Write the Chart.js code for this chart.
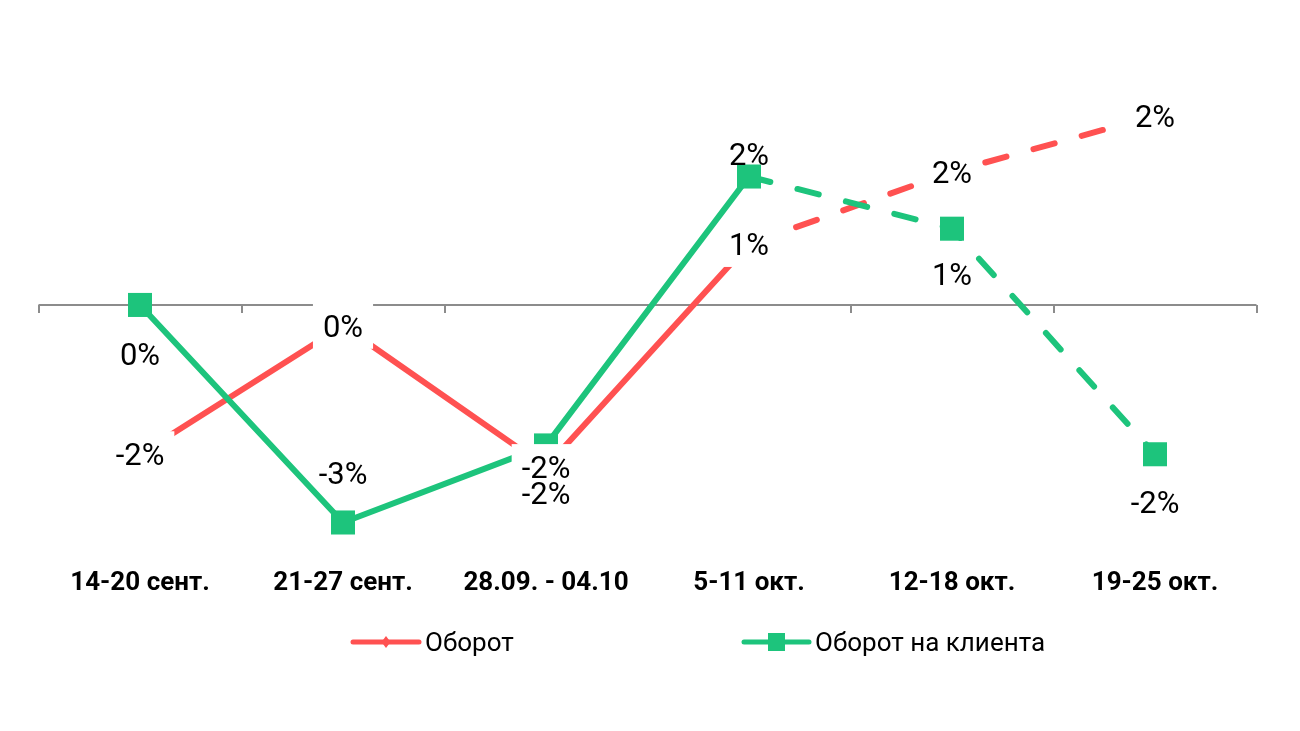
<!DOCTYPE html>
<html>
<head>
<meta charset="utf-8">
<style>
  html, body { margin: 0; padding: 0; background: #ffffff; }
  #wrap { width: 1300px; height: 731px; position: relative; }
</style>
<script src="https://cdn.jsdelivr.net/npm/chart.js@4.4.0/dist/chart.umd.min.js"></script>
</head>
<body>
<div id="wrap"><canvas id="chart"></canvas></div>
<script>
// ---- data ----
const categories = ['14-20 сент.', '21-27 сент.', '28.09. - 04.10', '5-11 окт.', '12-18 окт.', '19-25 окт.'];
const seriesNames = ['Оборот', 'Оборот на клиента'];
const turnover = [-1.86, -0.26, -2.02, 0.76, 1.66, 2.36];          // %
const turnoverPerClient = [0.0, -2.71, -1.75, 1.60, 0.95, -1.86];  // %
const lastSolidIndex = 3; // segments after this category are dashed

// ---- styles ----
const RED = '#FF5151';
const GREEN = '#1DC47C';
const AXIS_GRAY = '#8C8C8C';
const DASH = [22, 28];
const LABEL_SIZE = 31;
const LABEL_FONT = LABEL_SIZE + 'px Roboto';
const redLabelOffsets = [0, 0, 0, 0, 0, 0];
const greenLabelOffsets = [49, -50, 48, -23, 45, 48];

function fmtPct(v) { return String(Math.round(v) + 0) + '%'; }

const zeroAxisPlugin = {
  id: 'zeroAxis',
  beforeDatasetsDraw(chart) {
    const { ctx, chartArea, scales } = chart;
    const y0 = scales.y.getPixelForValue(0);
    ctx.save();
    ctx.strokeStyle = AXIS_GRAY;
    ctx.lineWidth = 2;
    ctx.beginPath();
    ctx.moveTo(chartArea.left, y0);
    ctx.lineTo(chartArea.right, y0);
    const n = categories.length;
    const step = (chartArea.right - chartArea.left) / n;
    for (let i = 0; i <= n; i++) {
      const x = Math.round(chartArea.left + i * step);
      ctx.moveTo(x, y0);
      ctx.lineTo(x, y0 + 8);
    }
    ctx.stroke();
    ctx.restore();
  }
};

const pointLabelPlugin = {
  id: 'pointLabels',
  afterDatasetsDraw(chart) {
    const ctx = chart.ctx;
    ctx.save();
    ctx.font = LABEL_FONT;
    ctx.textAlign = 'center';
    ctx.textBaseline = 'alphabetic';
    const capHalf = LABEL_SIZE * 0.711 / 2;
    chart.data.datasets.forEach((ds, di) => {
      const meta = chart.getDatasetMeta(di);
      meta.data.forEach((pt, i) => {
        const txt = fmtPct(ds.data[i]);
        const x = pt.x;
        const y = pt.y + ds.labelOffsets[i];
        if (ds.labelBox) {
          const w = ctx.measureText(txt).width + 20;
          const h = 46;
          ctx.fillStyle = '#ffffff';
          ctx.fillRect(x - w / 2, y - h / 2, w, h);
        }
        ctx.fillStyle = '#000000';
        ctx.fillText(txt, x, y + capHalf);
      });
    });
    ctx.restore();
  }
};

const legendPlugin = {
  id: 'customLegend',
  afterDraw(chart) {
    const ctx = chart.ctx;
    const cx = chart.width / 2;
    const y = 642;
    const size = 26;
    const items = [
      { text: seriesNames[0], color: RED, marker: 'diamond', x0: cx - 297, x1: cx - 231, tx: cx - 225 },
      { text: seriesNames[1], color: GREEN, marker: 'square', x0: cx + 94, x1: cx + 159, tx: cx + 165 }
    ];
    ctx.save();
    items.forEach(it => {
      ctx.strokeStyle = it.color;
      ctx.lineWidth = 5;
      ctx.lineCap = 'round';
      ctx.beginPath();
      ctx.moveTo(it.x0, y);
      ctx.lineTo(it.x1, y);
      ctx.stroke();
      const mx = (it.x0 + it.x1) / 2;
      ctx.fillStyle = it.color;
      ctx.beginPath();
      if (it.marker === 'diamond') {
        ctx.moveTo(mx, y - 6);
        ctx.lineTo(mx + 4.5, y);
        ctx.lineTo(mx, y + 6);
        ctx.lineTo(mx - 4.5, y);
        ctx.closePath();
      } else {
        ctx.rect(mx - 8.5, y - 9, 17, 18);
      }
      ctx.fill();
      ctx.fillStyle = '#000000';
      ctx.font = size + 'px Roboto';
      ctx.textAlign = 'left';
      ctx.textBaseline = 'alphabetic';
      ctx.fillText(it.text, it.tx, y + size * 0.711 / 2);
    });
    ctx.restore();
  }
};

const dashSegment = { borderDash: c => (c.p0DataIndex >= lastSolidIndex ? DASH : undefined) };

new Chart(document.getElementById('chart'), {
  type: 'line',
  data: {
    labels: categories,
    datasets: [
      {
        label: seriesNames[0],
        data: turnover,
        borderColor: RED,
        backgroundColor: RED,
        borderWidth: 6,
        borderCapStyle: 'round',
        borderJoinStyle: 'round',
        pointStyle: 'rectRot',
        pointRadius: 6,
        pointHoverRadius: 6,
        pointBorderWidth: 0,
        tension: 0,
        order: 2,
        segment: dashSegment,
        labelOffsets: redLabelOffsets,
        labelBox: true,
        clip: false
      },
      {
        label: seriesNames[1],
        data: turnoverPerClient,
        borderColor: GREEN,
        backgroundColor: GREEN,
        borderWidth: 6,
        borderCapStyle: 'round',
        borderJoinStyle: 'round',
        pointStyle: 'rect',
        pointRadius: 17,
        pointHoverRadius: 17,
        pointBorderWidth: 0,
        tension: 0,
        order: 1,
        segment: dashSegment,
        labelOffsets: greenLabelOffsets,
        labelBox: false,
        clip: false
      }
    ]
  },
  options: {
    responsive: true,
    maintainAspectRatio: false,
    animation: false,
    events: [],
    layout: { padding: { left: 38.5, right: 43.5, top: 24, bottom: 120 } },
    plugins: {
      legend: { display: false },
      tooltip: { enabled: false },
      title: { display: false }
    },
    scales: {
      x: {
        offset: true,
        grid: { display: false, drawTicks: false },
        border: { display: false },
        ticks: {
          color: '#000000',
          font: { family: 'Roboto', size: 26, weight: 'bold' },
          padding: 12,
          maxRotation: 0,
          autoSkip: false
        }
      },
      y: {
        display: false,
        min: -3.125,
        max: 3.5
      }
    }
  },
  plugins: [zeroAxisPlugin, pointLabelPlugin, legendPlugin]
});
</script>
</body>
</html>
